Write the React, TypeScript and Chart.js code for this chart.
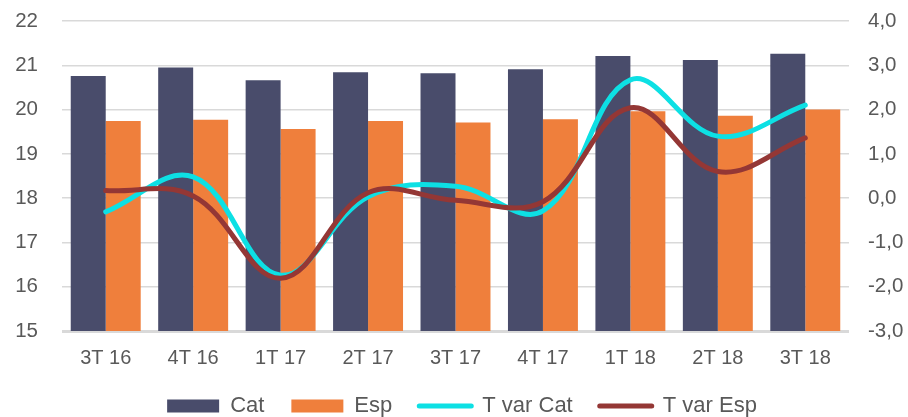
import React, { useEffect, useRef } from "react";
import { Chart, registerables } from "chart.js";

Chart.register(...registerables);

const categories = ["3T 16", "4T 16", "1T 17", "2T 17", "3T 17", "4T 17", "1T 18", "2T 18", "3T 18"];
const catValues = [20.76, 20.95, 20.66, 20.84, 20.82, 20.91, 21.21, 21.12, 21.26];
const espValues = [19.74, 19.77, 19.56, 19.74, 19.71, 19.78, 19.96, 19.86, 20.0];
const tVarCat = [-0.31, 0.48, -1.74, 0.03, 0.27, -0.29, 2.67, 1.4, 2.1];
const tVarEsp = [0.17, 0.05, -1.81, 0.12, -0.05, -0.08, 2.04, 0.6, 1.36];
const seriesNames = ["Cat", "Esp", "T var Cat", "T var Esp"];

const COLORS = ["#494c6b", "#ef7f3c", "#0de0e4", "#943735"];
const FONT = "'Liberation Sans', Arial, sans-serif";

export default function App() {
  const ref = useRef<HTMLCanvasElement | null>(null);
  useEffect(() => {
    if (!ref.current) return;
    const chart = new Chart(ref.current, {
      type: "bar",
      data: {
        labels: categories,
        datasets: [
          {
            type: "bar",
            label: seriesNames[0],
            data: catValues,
            backgroundColor: COLORS[0],
            yAxisID: "y",
            order: 2,
            categoryPercentage: 0.8,
            barPercentage: 1.0,
          },
          {
            type: "bar",
            label: seriesNames[1],
            data: espValues,
            backgroundColor: COLORS[1],
            yAxisID: "y",
            order: 2,
            categoryPercentage: 0.8,
            barPercentage: 1.0,
          },
          {
            type: "line",
            label: seriesNames[2],
            data: tVarCat,
            borderColor: COLORS[2],
            backgroundColor: COLORS[2],
            borderWidth: 5,
            borderCapStyle: "round",
            pointRadius: 0,
            tension: 0.38,
            yAxisID: "y1",
            order: 1,
          },
          {
            type: "line",
            label: seriesNames[3],
            data: tVarEsp,
            borderColor: COLORS[3],
            backgroundColor: COLORS[3],
            borderWidth: 5,
            borderCapStyle: "round",
            pointRadius: 0,
            tension: 0.38,
            yAxisID: "y1",
            order: 0,
          },
        ] as any,
      },
      options: {
        animation: false,
        responsive: false,
        maintainAspectRatio: false,
        layout: { padding: { top: 21, left: 16, right: 0, bottom: -10 } },
        plugins: {
          tooltip: { enabled: false },
          legend: {
            position: "bottom",
            labels: {
              font: { family: FONT, size: 22 },
              color: "#595959",
              usePointStyle: true,
              pointStyleWidth: 52,
              boxHeight: 13,
              padding: 27,
              generateLabels: (c: any) => {
                const items = (Chart.defaults.plugins.legend.labels as any).generateLabels(c);
                return items
                  .map((it: any) => {
                    const isLine = it.datasetIndex >= 2;
                    return {
                      ...it,
                      pointStyle: isLine ? "line" : "rect",
                      lineWidth: isLine ? 5 : 0,
                      lineCap: "round",
                      fillStyle: COLORS[it.datasetIndex],
                      strokeStyle: COLORS[it.datasetIndex],
                    };
                  })
                  .sort((a: any, b: any) => a.datasetIndex - b.datasetIndex);
              },
            },
          },
        },
        scales: {
          x: {
            grid: { display: false },
            border: { display: false },
            ticks: { font: { family: FONT, size: 20 }, color: "#595959", padding: 7 },
            afterFit: (s: any) => {
              s.height = 37;
            },
          },
          y: {
            position: "left",
            min: 15,
            max: 22,
            ticks: {
              stepSize: 1,
              font: { family: FONT, size: 20.5 },
              color: "#595959",
              padding: 24,
            },
            grid: {
              color: "#d9d9d9",
              lineWidth: (ctx: any) => (ctx.tick && ctx.tick.value === 15 ? 3 : 1.5),
              drawTicks: false,
            },
            border: { display: false },
            afterFit: (s: any) => {
              s.width = 46;
              s.paddingTop = 0;
              s.paddingBottom = 0;
            },
          },
          y1: {
            position: "right",
            min: -3,
            max: 4,
            ticks: {
              stepSize: 1,
              font: { family: FONT, size: 20.5 },
              color: "#595959",
              padding: 19,
              callback: (v: any) => Number(v).toFixed(1).replace(".", ","),
            },
            grid: { drawOnChartArea: false, drawTicks: false },
            border: { display: false },
            afterFit: (s: any) => {
              s.width = 59;
              s.paddingTop = 0;
              s.paddingBottom = 0;
            },
          },
        },
      } as any,
    });
    return () => chart.destroy();
  }, []);
  return (
    <div style={{ position: "absolute", left: 0, top: 0, width: 908, height: 417, background: "#fff" }}>
      <canvas ref={ref} width={908} height={417} style={{ width: 908, height: 417 }} />
    </div>
  );
}
